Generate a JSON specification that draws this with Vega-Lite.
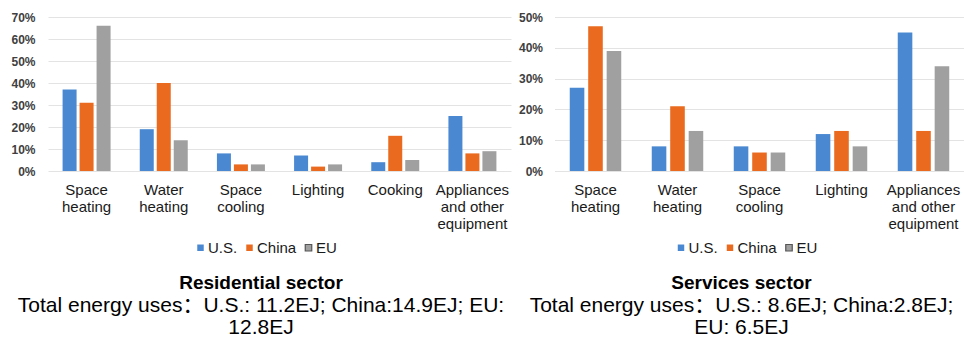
{
  "$schema": "https://vega.github.io/schema/vega-lite/v6.json",
  "background": "white",
  "padding": {"left": 10, "top": 11, "right": 0, "bottom": 0},
  "bounds": "flush",
  "spacing": 43.5,
  "config": {
    "font": "Liberation Sans, Noto Sans CJK SC",
    "view": {"stroke": null}
  },
  "resolve": {
    "scale": {"x": "independent", "y": "independent", "color": "independent", "xOffset": "independent"},
    "legend": {"color": "independent"}
  },
  "datasets": {
    "residential": [
      {"use": "Space heating", "region": "U.S.", "share": 0.37},
      {"use": "Space heating", "region": "China", "share": 0.31},
      {"use": "Space heating", "region": "EU", "share": 0.66},
      {"use": "Water heating", "region": "U.S.", "share": 0.19},
      {"use": "Water heating", "region": "China", "share": 0.40},
      {"use": "Water heating", "region": "EU", "share": 0.14},
      {"use": "Space cooling", "region": "U.S.", "share": 0.08},
      {"use": "Space cooling", "region": "China", "share": 0.03},
      {"use": "Space cooling", "region": "EU", "share": 0.03},
      {"use": "Lighting", "region": "U.S.", "share": 0.07},
      {"use": "Lighting", "region": "China", "share": 0.02},
      {"use": "Lighting", "region": "EU", "share": 0.03},
      {"use": "Cooking", "region": "U.S.", "share": 0.04},
      {"use": "Cooking", "region": "China", "share": 0.16},
      {"use": "Cooking", "region": "EU", "share": 0.05},
      {"use": "Appliances and other equipment", "region": "U.S.", "share": 0.25},
      {"use": "Appliances and other equipment", "region": "China", "share": 0.08},
      {"use": "Appliances and other equipment", "region": "EU", "share": 0.09}
    ],
    "services": [
      {"use": "Space heating", "region": "U.S.", "share": 0.27},
      {"use": "Space heating", "region": "China", "share": 0.47},
      {"use": "Space heating", "region": "EU", "share": 0.39},
      {"use": "Water heating", "region": "U.S.", "share": 0.08},
      {"use": "Water heating", "region": "China", "share": 0.21},
      {"use": "Water heating", "region": "EU", "share": 0.13},
      {"use": "Space cooling", "region": "U.S.", "share": 0.08},
      {"use": "Space cooling", "region": "China", "share": 0.06},
      {"use": "Space cooling", "region": "EU", "share": 0.06},
      {"use": "Lighting", "region": "U.S.", "share": 0.12},
      {"use": "Lighting", "region": "China", "share": 0.13},
      {"use": "Lighting", "region": "EU", "share": 0.08},
      {"use": "Appliances and other equipment", "region": "U.S.", "share": 0.45},
      {"use": "Appliances and other equipment", "region": "China", "share": 0.13},
      {"use": "Appliances and other equipment", "region": "EU", "share": 0.34}
    ]
  },
  "hconcat": [
    {
      "data": {"name": "residential"},
      "width": 463,
      "height": 154,
      "title": {
        "text": "Residential sector",
        "subtitle": ["Total energy uses：U.S.: 11.2EJ; China:14.9EJ; EU:", "12.8EJ"],
        "orient": "bottom",
        "anchor": "middle",
        "frame": "bounds",
        "offset": 18,
        "fontSize": 19,
        "fontWeight": "bold",
        "color": "#000000",
        "subtitleFontSize": 21,
        "subtitleLineHeight": 22,
        "subtitlePadding": 2,
        "subtitleColor": "#000000"
      },
      "mark": {"type": "bar"},
      "encoding": {
        "x": {
          "field": "use", "type": "nominal", "sort": null,
          "scale": {"paddingInner": 0.378, "paddingOuter": 0.189},
          "axis": {
            "title": null, "labelAngle": 0, "ticks": false, "domain": false,
            "labelFontSize": 15, "labelLineHeight": 17, "labelPadding": 11,
            "labelColor": "#1a1a1a", "labelLimit": 200,
            "labelExpr": "datum.label === 'Appliances and other equipment' ? ['Appliances', 'and other', 'equipment'] : split(datum.label, ' ')"
          }
        },
        "xOffset": {
          "field": "region", "type": "nominal", "sort": ["U.S.", "China", "EU"],
          "scale": {"paddingInner": 0.176, "paddingOuter": 0}
        },
        "y": {
          "field": "share", "type": "quantitative",
          "scale": {"domain": [0, 0.7], "nice": false},
          "axis": {
            "title": null, "format": ".0%", "values": [0, 0.1, 0.2, 0.3, 0.4, 0.5, 0.6, 0.7],
            "domain": false, "ticks": false, "grid": true, "gridColor": "#e3e3e3",
            "labelFontSize": 12, "labelFontWeight": "bold", "labelColor": "#404040", "labelPadding": 13
          }
        },
        "color": {
          "field": "region", "type": "nominal",
          "scale": {"domain": ["U.S.", "China", "EU"], "range": ["#4A89D1", "#EA6B1F", "#A0A0A0"]},
          "legend": {
            "title": null, "orient": "none", "legendX": 145, "legendY": 223, "direction": "horizontal",
            "symbolType": "square", "symbolSize": 42, "labelFontSize": 15, "labelColor": "#1a1a1a",
            "labelOffset": 0, "columnPadding": 4,
            "encode": {"symbols": {"update": {
              "stroke": [{"test": "datum.label === 'EU'", "value": "#555555"}, {"value": "transparent"}],
              "strokeWidth": {"value": 1.2}
            }}}
          }
        }
      }
    },
    {
      "data": {"name": "services"},
      "width": 410,
      "height": 154,
      "title": {
        "text": "Services sector",
        "subtitle": ["Total energy uses：U.S.: 8.6EJ; China:2.8EJ;", "EU: 6.5EJ"],
        "orient": "bottom",
        "anchor": "middle",
        "frame": "bounds",
        "offset": 18,
        "fontSize": 19,
        "fontWeight": "bold",
        "color": "#000000",
        "subtitleFontSize": 21,
        "subtitleLineHeight": 22,
        "subtitlePadding": 2,
        "subtitleColor": "#000000"
      },
      "mark": {"type": "bar"},
      "encoding": {
        "x": {
          "field": "use", "type": "nominal", "sort": null,
          "scale": {"paddingInner": 0.372, "paddingOuter": 0.186},
          "axis": {
            "title": null, "labelAngle": 0, "ticks": false, "domain": false,
            "labelFontSize": 15, "labelLineHeight": 17, "labelPadding": 11,
            "labelColor": "#1a1a1a", "labelLimit": 200,
            "labelExpr": "datum.label === 'Appliances and other equipment' ? ['Appliances', 'and other', 'equipment'] : split(datum.label, ' ')"
          }
        },
        "xOffset": {
          "field": "region", "type": "nominal", "sort": ["U.S.", "China", "EU"],
          "scale": {"paddingInner": 0.21, "paddingOuter": 0}
        },
        "y": {
          "field": "share", "type": "quantitative",
          "scale": {"domain": [0, 0.5], "nice": false},
          "axis": {
            "title": null, "format": ".0%", "values": [0, 0.1, 0.2, 0.3, 0.4, 0.5],
            "domain": false, "ticks": false, "grid": true, "gridColor": "#e3e3e3",
            "labelFontSize": 12, "labelFontWeight": "bold", "labelColor": "#404040", "labelPadding": 12
          }
        },
        "color": {
          "field": "region", "type": "nominal",
          "scale": {"domain": ["U.S.", "China", "EU"], "range": ["#4A89D1", "#EA6B1F", "#A0A0A0"]},
          "legend": {
            "title": null, "orient": "none", "legendX": 119, "legendY": 223, "direction": "horizontal",
            "symbolType": "square", "symbolSize": 42, "labelFontSize": 15, "labelColor": "#1a1a1a",
            "labelOffset": 0, "columnPadding": 4,
            "encode": {"symbols": {"update": {
              "stroke": [{"test": "datum.label === 'EU'", "value": "#555555"}, {"value": "transparent"}],
              "strokeWidth": {"value": 1.2}
            }}}
          }
        }
      }
    }
  ]
}
